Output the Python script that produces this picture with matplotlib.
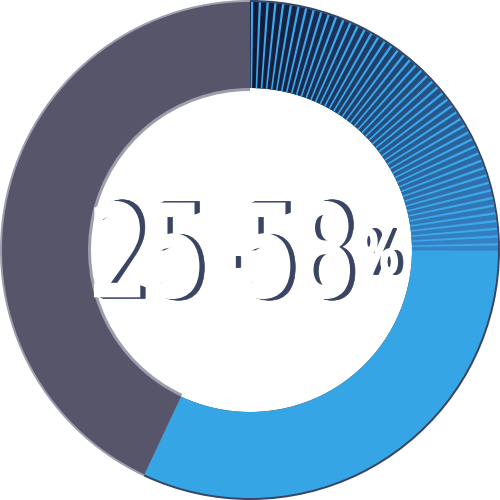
import numpy as np
import matplotlib
matplotlib.use("Agg")
import matplotlib.pyplot as plt
from matplotlib.patches import Wedge, PathPatch
from matplotlib.textpath import TextPath
from matplotlib.font_manager import FontProperties
from matplotlib.transforms import Affine2D
from matplotlib.colors import to_rgb

# Datos del gráfico
segmentos = ["azul", "gris"]
valores = [57, 43]
colores = ["#36a5e6", "#565569"]
colores_borde = ["#394565", "#9c9eae"]
etiqueta = "25-58"
sufijo = "%"
n_rayas = 50          # rayas en el primer cuadrante
angulo_rayas = 90     # grados cubiertos por las rayas

fig = plt.figure(figsize=(5, 5), dpi=100)
ax = fig.add_axes([0, 0, 1, 1])
centro = (250, 250)

# Anillo trasero (borde) y anillo principal
bordes, _ = ax.pie(valores, colors=colores_borde, startangle=90, counterclock=False,
                   radius=250, center=centro, wedgeprops=dict(width=91, linewidth=0))
bordes[0].set_width(88)
ax.pie(valores, colors=colores, startangle=90, counterclock=False,
       radius=248, center=centro, wedgeprops=dict(width=86, linewidth=0))

# Cuadrante rayado: franjas oscuras con degradado y líneas claras encima
c_ini = np.array(to_rgb("#131935"))
c_fin = np.array(to_rgb("#3683c6"))
paso = angulo_rayas / n_rayas
for i in range(n_rayas):
    t = i / (n_rayas - 1)
    col = c_ini * (1 - t) + c_fin * t
    a_sup = 90 - i * paso
    a_inf = a_sup - paso
    ax.add_patch(Wedge(centro, 248, a_inf - 0.15, a_sup, width=86,
                       facecolor=col, linewidth=0))
for i in range(n_rayas):
    a_sup = 90 - i * paso - paso * 0.12
    ax.add_patch(Wedge(centro, 248, a_sup - paso * 0.3, a_sup, width=86,
                       facecolor="#3aa9ee", linewidth=0, zorder=2))

fp = FontProperties(family=["Liberation Sans Narrow", "DejaVu Sans"])


def dibujar(cadena, x0, x1, y0, y1):
    tp = TextPath((0, 0), cadena, size=100, prop=fp)
    ext = tp.get_extents()
    sx = (x1 - x0) / ext.width
    sy = (y1 - y0) / ext.height
    base = Affine2D().translate(-ext.x0, -ext.y0).scale(sx, sy).translate(x0, y0)
    camino = base.transform_path(tp)
    yc = 0.5 * (y0 + y1)
    # sombra extruida: se desplaza a la derecha y se estira en vertical
    for k in range(1, 9):
        f = k / 8
        sh = (Affine2D().translate(0, -yc).scale(1, 1 + 0.07 * f)
              .translate(7 * f, yc).transform_path(camino))
        ax.add_patch(PathPatch(sh, facecolor="#3a4563", edgecolor="#3a4563",
                               linewidth=0.5, zorder=5))
    ax.add_patch(PathPatch(camino, facecolor="white", edgecolor="white",
                           linewidth=3, zorder=6))


# coordenadas en píxeles (y hacia arriba)
dibujar(etiqueta, 96, 348, 500 - 297, 500 - 203)
dibujar(sufijo, 362, 396, 500 - 273, 500 - 230)

ax.set_xlim(0, 500)
ax.set_ylim(0, 500)
ax.set_aspect("equal")
ax.axis("off")
fig.savefig("out.png", dpi=100, facecolor="white")
